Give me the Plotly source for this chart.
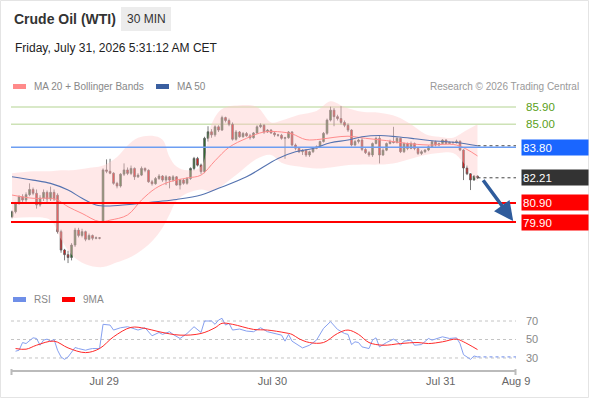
import plotly.graph_objects as go
from plotly.subplots import make_subplots

# 30 min candles, bar index 0..133
opens = [80.18, 80.44, 80.87, 81.22, 81.05, 81.33, 81.60, 81.40, 80.79, 81.15,
         81.45, 81.10, 81.45, 81.30, 79.40, 78.44, 78.20, 78.05, 78.70, 79.48,
         79.20, 79.40, 79.00, 79.20, 79.05, 79.08, 79.92, 82.62, 82.55, 82.45,
         81.92, 81.78, 82.40, 82.62, 82.44, 82.70, 82.26, 82.35, 82.70, 82.60,
         82.00, 81.90, 82.17, 82.30, 82.09, 82.26, 82.09, 82.26, 81.83, 82.09,
         81.92, 82.17, 82.70, 83.22, 82.87, 82.53, 84.27, 84.61, 84.45, 84.87,
         84.70, 85.35, 85.20, 85.00, 84.22, 84.60, 84.35, 84.52, 84.40, 84.30,
         84.55, 84.87, 84.95, 84.60, 84.70, 84.55, 84.45, 84.43, 84.27, 84.30,
         84.60, 83.92, 83.75, 83.57, 83.65, 83.40, 83.57, 83.74, 83.83, 84.10,
         84.53, 85.22, 85.74, 85.40, 85.30, 85.10, 84.95, 84.70, 83.92, 84.10,
         84.18, 83.69, 83.52, 83.40, 84.00, 84.27, 83.40, 83.65, 84.00, 84.10,
         84.05, 84.27, 83.57, 84.00, 83.74, 84.00, 83.74, 83.48, 83.57, 83.66,
         83.83, 84.09, 83.92, 84.00, 84.18, 84.00, 84.06, 84.04, 84.12, 83.66,
         82.72, 82.42, 82.10, 82.30]
highs = [80.50, 80.95, 81.30, 81.35, 81.45, 81.92, 81.70, 81.60, 81.30, 81.60,
         81.55, 81.75, 81.60, 81.40, 79.50, 78.50, 78.40, 78.80, 79.60, 79.60,
         79.55, 79.45, 79.30, 79.25, 79.15, 79.12, 82.70, 83.17, 83.20, 82.50,
         82.00, 82.45, 82.96, 82.75, 82.85, 82.75, 82.45, 82.80, 82.75, 82.65,
         82.10, 82.25, 82.40, 82.35, 82.35, 82.30, 82.35, 82.30, 82.15, 82.15,
         82.25, 82.75, 83.30, 83.30, 82.95, 84.35, 84.90, 84.75, 84.95, 84.95,
         85.45, 85.40, 85.30, 85.10, 84.70, 84.65, 84.60, 84.60, 84.50, 84.60,
         84.95, 85.05, 85.00, 84.75, 84.75, 84.60, 84.50, 84.50, 84.35, 84.65,
         84.65, 84.00, 83.80, 83.70, 83.70, 83.62, 83.78, 83.90, 84.15, 84.60,
         85.30, 85.92, 85.85, 85.50, 85.95, 85.20, 85.05, 84.75, 84.20, 84.25,
         84.30, 83.75, 83.60, 84.05, 84.35, 84.40, 83.75, 84.05, 84.20, 84.87,
         84.35, 84.30, 84.05, 84.05, 84.10, 84.05, 83.80, 83.65, 83.70, 83.90,
         84.15, 84.15, 84.05, 84.22, 84.22, 84.10, 84.10, 84.20, 84.15, 83.70,
         82.85, 82.45, 82.35, 82.33]
lows = [80.10, 80.35, 80.80, 80.95, 80.95, 81.25, 81.30, 80.60, 80.70, 81.00,
        80.95, 81.00, 81.00, 79.30, 78.30, 77.90, 77.76, 77.90, 78.60, 79.10,
        79.10, 78.90, 78.95, 78.95, 79.00, 79.00, 79.85, 82.45, 82.40, 81.85,
        81.66, 81.70, 82.30, 82.35, 82.35, 82.10, 82.20, 82.30, 82.50, 81.95,
        81.80, 81.85, 82.10, 82.00, 81.83, 81.66, 82.00, 81.80, 81.60, 81.85,
        81.85, 82.10, 82.60, 82.80, 82.40, 82.45, 84.10, 84.30, 84.35, 84.60,
        84.65, 85.10, 84.90, 84.15, 84.15, 84.30, 84.30, 84.35, 84.20, 84.25,
        84.50, 84.80, 84.50, 84.55, 84.50, 84.35, 84.35, 84.20, 83.20, 84.25,
        83.85, 83.65, 83.50, 83.40, 83.30, 83.30, 83.50, 83.70, 83.78, 84.05,
        84.45, 85.15, 84.90, 85.20, 85.00, 84.85, 84.60, 83.85, 83.85, 84.00,
        83.60, 83.45, 83.30, 83.30, 83.95, 82.96, 83.35, 83.60, 83.95, 84.00,
        84.00, 83.50, 83.50, 83.65, 83.70, 83.65, 83.40, 83.40, 83.50, 83.60,
        83.80, 83.85, 83.85, 83.95, 83.95, 83.98, 84.00, 84.00, 83.60, 82.09,
        82.35, 81.57, 82.05, 82.15]
closes = [80.44, 80.87, 81.22, 81.05, 81.33, 81.60, 81.40, 80.79, 81.15, 81.45,
          81.10, 81.45, 81.10, 79.40, 78.44, 78.20, 78.05, 78.70, 79.48, 79.20,
          79.40, 79.00, 79.20, 79.05, 79.08, 79.06, 82.62, 82.55, 82.45, 81.92,
          81.78, 82.40, 82.62, 82.44, 82.70, 82.26, 82.35, 82.70, 82.60, 82.00,
          81.90, 82.17, 82.30, 82.09, 82.26, 82.09, 82.26, 81.83, 82.09, 81.92,
          82.17, 82.70, 83.22, 82.87, 82.53, 84.27, 84.61, 84.45, 84.87, 84.70,
          85.35, 85.20, 85.00, 84.22, 84.60, 84.35, 84.52, 84.40, 84.30, 84.55,
          84.87, 84.95, 84.60, 84.70, 84.55, 84.45, 84.43, 84.27, 84.30, 84.60,
          83.92, 83.75, 83.57, 83.65, 83.40, 83.57, 83.74, 83.83, 84.10, 84.53,
          85.22, 85.74, 85.40, 85.30, 85.10, 84.95, 84.70, 83.92, 84.10, 84.18,
          83.69, 83.52, 83.40, 84.00, 84.27, 83.40, 83.65, 84.00, 84.10, 84.05,
          84.27, 83.57, 84.00, 83.74, 84.00, 83.74, 83.48, 83.57, 83.66, 83.83,
          84.09, 83.92, 84.00, 84.18, 84.00, 84.06, 84.04, 84.12, 83.66, 82.72,
          82.42, 82.10, 82.30, 82.21]
bars = list(range(len(closes)))

# MA 20 and Bollinger bands
ma20_x = [0, 6, 11, 13, 16, 20, 25, 28, 33, 37, 41, 45, 50, 54, 58, 62, 67, 72,
          77, 80, 84, 88, 92, 96, 101, 107, 113, 119, 127, 133]
ma20 = [81.31, 81.14, 81.14, 81.05, 80.70, 80.35, 79.92, 80.00, 80.27, 81.05,
        81.66, 82.00, 82.20, 82.35, 83.10, 83.80, 84.27, 84.60, 84.60, 84.50,
        84.20, 84.22, 84.32, 84.38, 84.27, 84.15, 84.00, 83.92, 83.92, 83.35]
bb_x = [0, 6, 11, 14, 17, 21, 26, 30, 33, 36, 40, 43, 45, 47, 50, 54, 57, 60,
        65, 70, 74, 77, 82, 87, 91, 95, 100, 105, 110, 114, 118, 122, 126, 129, 133]
bb_upper = [82.45, 82.55, 82.55, 82.60, 82.60, 82.70, 82.85, 83.30, 83.90, 84.30,
            84.40, 84.20, 83.30, 82.80, 82.60, 82.80, 85.00, 85.80, 86.00, 85.90,
            85.10, 85.20, 85.50, 85.70, 86.20, 85.90, 85.65, 85.60, 85.40, 85.00,
            84.50, 84.35, 84.30, 84.60, 85.00]
bb_lower = [80.10, 80.15, 80.00, 79.00, 78.20, 77.70, 77.55, 77.80, 78.00, 78.30,
            78.90, 79.60, 80.30, 81.00, 81.40, 81.60, 81.50, 81.80, 82.50, 83.20,
            83.40, 83.00, 82.80, 82.70, 82.75, 82.85, 82.90, 82.90, 83.00, 83.20,
            83.40, 83.50, 83.50, 83.00, 82.00]

# MA 50
ma50_x = [0, 6, 11, 16, 20, 24, 28, 35, 41, 47, 54, 59, 67, 76, 81, 86, 91, 96,
          100, 105, 110, 115, 120, 127, 133]
ma50 = [82.26, 82.09, 81.92, 81.57, 81.14, 80.79, 80.74, 80.84, 80.96, 81.08,
        81.31, 81.66, 82.26, 83.22, 83.57, 83.74, 84.04, 84.18, 84.35, 84.42,
        84.35, 84.25, 84.14, 84.05, 83.88]

# RSI and its 9 period MA
rsi_x = [1, 2, 3, 4, 6, 7, 8, 9, 10, 11, 12, 13, 14, 15, 16, 17, 18, 19, 21, 22,
         23, 25, 26, 28, 29, 31, 33, 34, 36, 38, 39, 40, 42, 43, 45, 46, 48, 49,
         50, 52, 53, 54, 55, 57, 58, 59, 60, 61, 62, 63, 65, 67, 69, 71, 73, 75,
         77, 78, 79, 80, 82, 83, 85, 87, 89, 91, 93, 95, 96, 97, 98, 99, 100, 102,
         103, 104, 105, 107, 109, 110, 111, 112, 114, 115, 117, 119, 120, 122,
         123, 125, 126, 127, 128, 129, 131, 132, 133]
rsi = [37.3, 38.4, 46.7, 45.6, 51.8, 51.1, 43.8, 49.3, 50.4, 48.2, 50.0, 38.4,
       31.1, 28.5, 31.1, 36.5, 41.3, 40.2, 38.4, 39.5, 40.2, 40.2, 66.4, 65.6,
       60.2, 62.7, 63.8, 62.7, 60.2, 62.7, 58.4, 54.0, 57.6, 55.5, 58.4, 55.5,
       51.1, 54.0, 56.5, 63.8, 60.2, 57.6, 70.0, 70.0, 66.4, 71.0, 72.9, 65.6,
       67.5, 60.2, 61.3, 59.1, 58.4, 62.7, 58.4, 56.5, 54.7, 48.2, 55.5, 48.2,
       43.1, 40.9, 43.8, 49.3, 62.0, 69.3, 60.9, 56.5, 55.5, 44.5, 47.5, 46.7,
       42.0, 40.2, 49.3, 51.8, 42.0, 46.7, 50.4, 48.2, 43.8, 48.2, 49.3, 43.8,
       44.5, 51.1, 49.3, 51.8, 52.9, 51.1, 51.1, 51.8, 45.6, 33.6, 28.5, 32.2, 31.1]
rsi_ma_x = [1, 4, 7, 12, 16, 21, 25, 29, 34, 38, 42, 48, 54, 58, 60, 63, 69, 73,
            78, 80, 82, 85, 89, 93, 96, 99, 102, 106, 111, 116, 119, 123, 127, 129, 133]
rsi_ma = [40.2, 39.5, 43.8, 48.2, 40.9, 35.8, 40.2, 52.9, 63.1, 62.0, 58.4, 54.7,
          56.5, 62.7, 67.5, 66.4, 60.9, 60.2, 57.3, 55.5, 50.8, 46.7, 46.7, 56.5,
          60.2, 55.5, 46.7, 43.8, 45.6, 46.7, 45.6, 47.5, 50.4, 47.5, 39.1]

resistances = [85.90, 85.00]
pivot = 83.80
last_price = 82.21
supports = [80.90, 79.90]
target = 79.90
rsi_levels = [70, 50, 30]

tick_pos = [26.3, 74.4, 122.5, 144]
tick_text = ["Jul 29", "Jul 30", "Jul 31", "Aug 9"]

X_END = 144
FONT = "Liberation Sans, Arial, sans-serif"

# plot box in pixels
L, R, T, B = 11, 516, 95, 370


def px(x):
    return (x - L) / (R - L)


def py(y):
    return (B - y) / (B - T)


fig = make_subplots(rows=2, cols=1)

fig.add_trace(go.Scatter(x=bb_x, y=bb_upper, mode="lines", line=dict(width=0, shape="spline"),
                         hoverinfo="skip"), row=1, col=1)
fig.add_trace(go.Scatter(x=bb_x, y=bb_lower, mode="lines", line=dict(width=0, shape="spline"),
                         fill="tonexty", fillcolor="rgba(255,200,200,0.42)", hoverinfo="skip"),
              row=1, col=1)
fig.add_trace(go.Scatter(x=ma20_x, y=ma20, mode="lines",
                         line=dict(color="#ff8c8c", width=1, shape="spline")), row=1, col=1)
fig.add_trace(go.Scatter(x=ma50_x, y=ma50, mode="lines",
                         line=dict(color="#5573b0", width=1.1, shape="spline")), row=1, col=1)
fig.add_trace(go.Scatter(x=[ma50_x[-1], X_END], y=[ma50[-1], ma50[-1]], mode="lines",
                         line=dict(color="#444", width=1, dash="dot")), row=1, col=1)
fig.add_trace(go.Scatter(x=[bars[-1], X_END], y=[last_price, last_price], mode="lines",
                         line=dict(color="#444", width=1, dash="dot")), row=1, col=1)

fig.add_trace(go.Candlestick(
    x=bars, open=opens, high=highs, low=lows, close=closes, whiskerwidth=0,
    increasing=dict(line=dict(color="#5a5a5a", width=0.8), fillcolor="#2a6e2a"),
    decreasing=dict(line=dict(color="#5a5a5a", width=0.8), fillcolor="#ee1111"),
), row=1, col=1)

# RSI panel
for lv in rsi_levels:
    fig.add_trace(go.Scatter(x=[-0.3, X_END], y=[lv, lv], mode="lines",
                             line=dict(color="#c4c4c4", width=1, dash="dot")), row=2, col=1)
fig.add_trace(go.Scatter(x=[rsi_x[-1], X_END], y=[rsi[-1], rsi[-1]], mode="lines",
                         line=dict(color="#8aa2ee", width=1.3, dash="dot")), row=2, col=1)
fig.add_trace(go.Scatter(x=rsi_x, y=rsi, mode="lines", line=dict(color="#86a0f0", width=1)),
              row=2, col=1)
fig.add_trace(go.Scatter(x=rsi_ma_x, y=rsi_ma, mode="lines",
                         line=dict(color="#ff2a2a", width=1, shape="spline")), row=2, col=1)

# horizontal levels
for lv in resistances:
    fig.add_hline(y=lv, line=dict(color="#cde2b6", width=1.5), layer="below", row=1, col=1)
fig.add_hline(y=pivot, line=dict(color="#6d9ef2", width=1.5), row=1, col=1)
for lv in supports:
    fig.add_hline(y=lv, line=dict(color="#ff0000", width=2), row=1, col=1)

annotations = []
shapes = []

# right side price labels
for lv in resistances:
    annotations.append(dict(x=px(524), xref="paper", y=lv, yref="y", xanchor="left",
                            yanchor="middle", text=f"{lv:.2f}", showarrow=False,
                            font=dict(family=FONT, size=11.5, color="#5aa020")))
boxes = [(pivot, "#1a66ff"), (last_price, "#333333")] + [(lv, "#ff0000") for lv in supports]
for lv, col in boxes:
    annotations.append(dict(x=px(521), xref="paper", y=lv, yref="y", xanchor="left",
                            yanchor="middle", text=f"{lv:.2f}", showarrow=False, align="left",
                            width=64, height=13, bgcolor=col, borderpad=1,
                            font=dict(family=FONT, size=11.5, color="white")))
fig.add_trace(go.Scatter(x=[X_END + 1.0] * len(boxes), y=[b[0] for b in boxes], mode="markers",
                         marker=dict(symbol="triangle-left", size=9,
                                     color=[b[1] for b in boxes]),
                         cliponaxis=False), row=1, col=1)

# forecast arrow
annotations.append(dict(x=X_END - 0.8, y=target + 0.05, xref="x", yref="y",
                        ax=bars[-1] + 1.3, ay=last_price - 0.05, axref="x", ayref="y",
                        showarrow=True, arrowhead=2, arrowsize=1.1, arrowwidth=3.5,
                        arrowcolor="#2f5c9c", text=""))

# header
annotations += [
    dict(x=px(12), y=py(19), xref="paper", yref="paper", xanchor="left", yanchor="middle",
         text="<b>Crude Oil (WTI)</b>", showarrow=False,
         font=dict(family=FONT, size=14, color="#333")),
    dict(x=px(146), y=py(19), xref="paper", yref="paper", xanchor="center", yanchor="middle",
         text="30 MIN", showarrow=False, font=dict(family=FONT, size=12, color="#333")),
    dict(x=px(13), y=py(48), xref="paper", yref="paper", xanchor="left", yanchor="middle",
         text="Friday, July 31, 2026 5:31:12 AM CET", showarrow=False,
         font=dict(family=FONT, size=12, color="#222")),
    dict(x=px(32), y=py(86), xref="paper", yref="paper", xanchor="left", yanchor="middle",
         text="MA 20 + Bollinger Bands", showarrow=False,
         font=dict(family=FONT, size=10, color="#888")),
    dict(x=px(175), y=py(86), xref="paper", yref="paper", xanchor="left", yanchor="middle",
         text="MA 50", showarrow=False, font=dict(family=FONT, size=10, color="#888")),
    dict(x=px(581), y=py(86), xref="paper", yref="paper", xanchor="right", yanchor="middle",
         text="Research © 2026 Trading Central", showarrow=False,
         font=dict(family=FONT, size=10, color="#999")),
    dict(x=px(32), y=py(299), xref="paper", yref="paper", xanchor="left", yanchor="middle",
         text="RSI", showarrow=False, font=dict(family=FONT, size=10, color="#888")),
    dict(x=px(81), y=py(299), xref="paper", yref="paper", xanchor="left", yanchor="middle",
         text="9MA", showarrow=False, font=dict(family=FONT, size=10, color="#888")),
]
for lv in rsi_levels:
    annotations.append(dict(x=px(524), xref="paper", y=lv, yref="y2", xanchor="left",
                            yanchor="middle", text=str(lv), showarrow=False,
                            font=dict(family=FONT, size=11, color="#888")))

shapes += [
    dict(type="rect", xref="paper", yref="paper", x0=px(121), x1=px(171), y0=py(7), y1=py(31),
         fillcolor="#ececec", line=dict(width=0), layer="below"),
    dict(type="rect", xref="paper", yref="paper", x0=px(13), x1=px(26), y0=py(84), y1=py(89),
         fillcolor="#ff8a8a", line=dict(width=0)),
    dict(type="rect", xref="paper", yref="paper", x0=px(156), x1=px(169), y0=py(84), y1=py(89),
         fillcolor="#3a5fa0", line=dict(width=0)),
    dict(type="rect", xref="paper", yref="paper", x0=px(13), x1=px(26), y0=py(297), y1=py(302),
         fillcolor="#6f8fe8", line=dict(width=0)),
    dict(type="rect", xref="paper", yref="paper", x0=px(62), x1=px(75), y0=py(297), y1=py(302),
         fillcolor="#ff0000", line=dict(width=0)),
    # end ticks of the time axis
    dict(type="line", xref="paper", yref="paper", x0=px(11.5), x1=px(11.5), y0=py(369), y1=py(375),
         line=dict(color="#bbb", width=2)),
    dict(type="line", xref="paper", yref="paper", x0=px(515.5), x1=px(515.5), y0=py(369), y1=py(375),
         line=dict(color="#bbb", width=2)),
    # card border
    dict(type="rect", xref="paper", yref="paper", x0=px(0.5), x1=px(588.5), y0=py(397.5), y1=py(0.5),
         line=dict(color="#e4e4e4", width=1), layer="below"),
]

fig.update_layout(
    width=590, height=400, margin=dict(l=L, r=590 - R, t=T, b=400 - B),
    paper_bgcolor="white", plot_bgcolor="white", showlegend=False,
    font=dict(family=FONT, size=11, color="#666"),
    annotations=annotations, shapes=fig.layout.shapes + tuple(shapes),
    xaxis=dict(range=[-0.3, X_END], showgrid=False, zeroline=False, showticklabels=False,
               rangeslider=dict(visible=False), fixedrange=True),
    xaxis2=dict(range=[-0.3, X_END], showgrid=False, zeroline=False, showline=True,
                linecolor="#bbb", linewidth=2, tickvals=tick_pos, ticktext=tick_text,
                ticks="", tickfont=dict(family=FONT, size=11, color="#666")),
    yaxis=dict(domain=[py(283), 1], range=[76.72, 86.53], showgrid=False, zeroline=False,
               showticklabels=False),
    yaxis2=dict(domain=[0, py(305)], range=[17.0, 87.3], showgrid=False, zeroline=False,
                showticklabels=False),
)

# the page body has a default 8px margin; drop it so the figure sits at 0,0
fig.write_html("out.html", config={"displayModeBar": False},
               post_script="document.body.style.margin='0';")
